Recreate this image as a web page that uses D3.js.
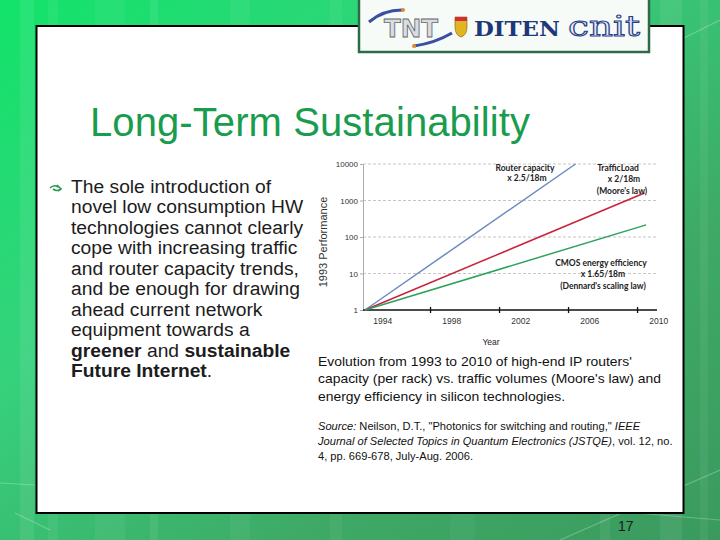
<!DOCTYPE html>
<html>
<head>
<meta charset="utf-8">
<script src="https://cdn.jsdelivr.net/npm/d3@7"></script>
<style>
  html, body { margin: 0; padding: 0; background: #2fb062; }
  svg { display: block; }
</style>
</head>
<body>
<svg id="slide" width="720" height="540"></svg>
<script>
// chart values
var seriesNames = ["Router capacity", "Traffic load", "CMOS energy efficiency"];
var routerPts = [[1993, 1], [2005.2, 10000]];
var trafficPts = [[1993, 1], [2009.2, 1600]];
var cmosPts = [[1993, 1], [2009.3, 215]];
var yTicks = [1, 10, 100, 1000, 10000];
var xLabels = [1994, 1998, 2002, 2006, 2010];
var xTickMarks = [1996.8, 2000.8, 2004.8, 2008.8];

var bulletLines = [
  [["The sole introduction of", false]],
  [["novel low consumption HW", false]],
  [["technologies cannot clearly", false]],
  [["cope with increasing traffic", false]],
  [["and router capacity trends,", false]],
  [["and be enough for drawing", false]],
  [["ahead current network", false]],
  [["equipment towards a", false]],
  [["greener", true], [" and ", false], ["sustainable", true]],
  [["Future Internet", true], [".", false]]
];
var captionLines = [
  "Evolution from 1993 to 2010 of high-end IP routers'",
  "capacity (per rack) vs. traffic volumes (Moore's law) and",
  "energy efficiency in silicon technologies."
];
var sourceLines = [
  [["Source:", true], [" Neilson, D.T., \"Photonics for switching and routing,\" ", false], ["IEEE", true]],
  [["Journal of Selected Topics in Quantum Electronics (JSTQE)", true], [", vol. 12, no.", false]],
  [["4, pp. 669-678, July-Aug. 2006.", false]]
];

var svg = d3.select("#slide");
var defs = svg.append("defs");

// green background
var bg = defs.append("linearGradient").attr("id", "bg").attr("x1", 0).attr("y1", 0).attr("x2", 1).attr("y2", 1);
bg.append("stop").attr("offset", "0%").attr("stop-color", "#12e36a");
bg.append("stop").attr("offset", "35%").attr("stop-color", "#35d27c");
bg.append("stop").attr("offset", "70%").attr("stop-color", "#3eaa66");
bg.append("stop").attr("offset", "100%").attr("stop-color", "#3a9a5e");
svg.append("rect").attr("width", 720).attr("height", 540).attr("fill", "url(#bg)");

var stripes = [[20, 14, 0.08], [48, 10, 0.06], [95, 30, 0.05], [150, 8, 0.07], [230, 20, 0.05],
               [330, 12, 0.05], [450, 25, 0.04], [600, 10, 0.06], [660, 22, 0.07], [700, 8, 0.06]];
svg.selectAll("rect.stripe").data(stripes).enter().append("rect").attr("class", "stripe")
  .attr("x", function(d){ return d[0]; }).attr("y", 0).attr("width", function(d){ return d[1]; })
  .attr("height", 540).attr("fill", "#ffffff").attr("opacity", function(d){ return d[2]; });
var diag = [[0, 483, 35, 485], [15, 513, 50, 530], [560, 540, 720, 470], [600, 510, 720, 520], [640, 60, 720, 20]];
svg.selectAll("line.diag").data(diag).enter().append("line").attr("class", "diag")
  .attr("x1", function(d){ return d[0]; }).attr("y1", function(d){ return d[1]; })
  .attr("x2", function(d){ return d[2]; }).attr("y2", function(d){ return d[3]; })
  .attr("stroke", "#ffffff").attr("stroke-opacity", 0.25).attr("stroke-width", 1.2);

// white panel
svg.append("rect").attr("x", 36.5).attr("y", 26).attr("width", 647).attr("height", 487)
  .attr("fill", "#ffffff").attr("stroke", "#000").attr("stroke-width", 2);

// logo box
var logo = svg.append("g");
logo.append("rect").attr("x", 359).attr("y", -4).attr("width", 290).attr("height", 56)
  .attr("fill", "#f7fbf8").attr("stroke", "#2d6b48").attr("stroke-width", 2.5);
logo.append("path").attr("d", "M369,22 Q383,10 402,10").attr("fill", "none").attr("stroke", "#3b4fa0").attr("stroke-width", 3);
logo.append("path").attr("d", "M414,46 Q435,43 452,33").attr("fill", "none").attr("stroke", "#3b4fa0").attr("stroke-width", 3);
logo.append("circle").attr("cx", 403).attr("cy", 10).attr("r", 2).attr("fill", "#e08a30");
logo.append("circle").attr("cx", 414).attr("cy", 46).attr("r", 2).attr("fill", "#e08a30");
logo.append("text").attr("x", 384).attr("y", 37)
  .attr("font-family", "DejaVu Sans").attr("font-weight", "bold").attr("font-size", 24)
  .attr("fill", "#d8dce4").attr("stroke", "#666").attr("stroke-width", 0.8)
  .attr("textLength", 54).attr("lengthAdjust", "spacingAndGlyphs").text("TNT");
logo.append("path").attr("d", "M455,17 h12 v10 q0,8 -6,10 q-6,-2 -6,-10 z").attr("fill", "#e0b520").attr("stroke", "#7a5a10").attr("stroke-width", 0.6);
logo.append("rect").attr("x", 455).attr("y", 17).attr("width", 12).attr("height", 4).attr("fill", "#d03030");
logo.append("text").attr("x", 474).attr("y", 36).attr("font-family", "DejaVu Serif").attr("font-weight", "bold")
  .attr("font-size", 20).attr("fill", "#1c3878")
  .attr("textLength", 86).attr("lengthAdjust", "spacingAndGlyphs").text("DITEN");
logo.append("text").attr("x", 568).attr("y", 36).attr("font-family", "DejaVu Serif")
  .attr("font-size", 28).attr("fill", "#e8ecf6").attr("stroke", "#2a3f8a").attr("stroke-width", 1)
  .attr("textLength", 72).attr("lengthAdjust", "spacingAndGlyphs").text("cnit");

// title
svg.append("text").attr("x", 90).attr("y", 136).attr("font-family", "Liberation Sans, Arial")
  .attr("font-size", 40).attr("fill", "#1a9c4e").attr("textLength", 440).text("Long-Term Sustainability");

// bullet glyph
var bul = svg.append("g").attr("transform", "translate(50,187)");
bul.append("path").attr("d", "M0,1 Q4,-3 8,0 M3,2 Q7,5 11,2 M7,-2 L11,2 L8,4").attr("fill", "none")
  .attr("stroke", "#2a9a50").attr("stroke-width", 1.6);

// bullet text (slide is slightly stretched horizontally)
var bt = svg.append("g").attr("transform", "translate(71,0) scale(1.07,1)")
  .attr("font-family", "Liberation Sans, Arial").attr("font-size", 18).attr("fill", "#1c1c1c");
bulletLines.forEach(function(parts, i){
  var t = bt.append("text").attr("x", 0).attr("y", 193 + i * 20.5);
  parts.forEach(function(p){
    t.append("tspan").attr("font-weight", p[1] ? "bold" : "normal").attr("xml:space", "preserve").text(p[0]);
  });
});

// ---- chart ----
var x = d3.scaleLinear().domain([1993, 2010]).range([365, 658.25]);
var y = d3.scaleLog().domain([1, 10000]).range([310, 164]);
var chart = svg.append("g");

chart.append("g").selectAll("line").data(yTicks.slice(1)).enter().append("line")
  .attr("x1", 363).attr("x2", 657).attr("y1", function(d){ return y(d); }).attr("y2", function(d){ return y(d); })
  .attr("stroke", "#b8b8b8").attr("stroke-width", 0.8).attr("stroke-dasharray", "3,2");

var yAxis = d3.axisLeft(y).tickValues(yTicks).tickFormat(d3.format("d")).tickSize(3).tickPadding(2);
var yg = chart.append("g").attr("transform", "translate(363,0)").call(yAxis);
yg.select(".domain").attr("stroke", "#aaa");
yg.selectAll(".tick line").attr("stroke", "#aaa");
yg.selectAll("text").attr("font-family", "Liberation Sans, Arial").attr("font-size", 8).attr("fill", "#333");

var xAxis = d3.axisBottom(x).tickValues(xLabels).tickFormat(d3.format("d")).tickSize(0).tickPadding(8);
var xg = chart.append("g").attr("transform", "translate(0,310)").call(xAxis);
xg.select(".domain").remove();
xg.selectAll("text").attr("font-family", "Liberation Sans, Arial").attr("font-size", 8.5).attr("fill", "#333");
chart.append("line").attr("x1", 363).attr("x2", 657).attr("y1", 310).attr("y2", 310).attr("stroke", "#111").attr("stroke-width", 1.3);
chart.append("g").selectAll("line").data(xTickMarks).enter().append("line")
  .attr("x1", function(d){ return x(d); }).attr("x2", function(d){ return x(d); })
  .attr("y1", 307).attr("y2", 313).attr("stroke", "#111").attr("stroke-width", 1.3);

var line = d3.line().x(function(d){ return x(d[0]); }).y(function(d){ return y(d[1]); });
var series = [routerPts, trafficPts, cmosPts];
var colors = ["#6a8cc0", "#c8223c", "#2ea25c"];
chart.append("g").selectAll("path").data(series).enter().append("path")
  .attr("d", line).attr("fill", "none").attr("stroke", function(d, i){ return colors[i]; })
  .attr("stroke-width", 1.5);

chart.append("text").attr("transform", "translate(327,242) rotate(-90)").attr("text-anchor", "middle")
  .attr("font-family", "Liberation Sans, Arial").attr("font-size", 11).attr("fill", "#333").text("1993  Performance");
chart.append("text").attr("x", 491).attr("y", 345).attr("text-anchor", "middle")
  .attr("font-family", "Liberation Sans, Arial").attr("font-size", 8.5).attr("fill", "#222").text("Year");

var notes = [
  ["Router capacity", 525, 171], ["x 2.5/18m", 527, 181],
  ["TrafficLoad", 618, 171], ["x 2/18m", 624, 182], ["(Moore's law)", 622, 194],
  ["CMOS energy efficiency", 601, 266], ["x  1.65/18m", 603, 277], ["(Dennard's scaling law)", 603, 289]
];
chart.append("g").selectAll("text").data(notes).enter().append("text")
  .attr("x", function(d){ return d[1]; }).attr("y", function(d){ return d[2]; }).attr("text-anchor", "middle")
  .attr("font-family", "Lato, Open Sans").attr("font-weight", "bold").attr("font-size", 8.5).attr("fill", "#222")
  .text(function(d){ return d[0]; });

// caption
var cap = svg.append("g").attr("transform", "translate(318,0) scale(1.07,1)")
  .attr("font-family", "Liberation Sans, Arial").attr("font-size", 13).attr("fill", "#111");
cap.selectAll("text").data(captionLines).enter().append("text")
  .attr("x", 0).attr("y", function(d, i){ return 366 + i * 17.5; }).text(function(d){ return d; });

var src = svg.append("g").attr("transform", "translate(318,0) scale(1.06,1)")
  .attr("font-family", "Liberation Sans, Arial").attr("font-size", 10.5).attr("fill", "#111");
sourceLines.forEach(function(parts, i){
  var t = src.append("text").attr("x", 0).attr("y", 430 + i * 15);
  parts.forEach(function(p){
    t.append("tspan").attr("font-style", p[1] ? "italic" : "normal").attr("xml:space", "preserve").text(p[0]);
  });
});

svg.append("text").attr("x", 618).attr("y", 531).attr("font-family", "Liberation Sans, Arial")
  .attr("font-size", 14).attr("fill", "#1a1a1a").text("17");
</script>
</body>
</html>
